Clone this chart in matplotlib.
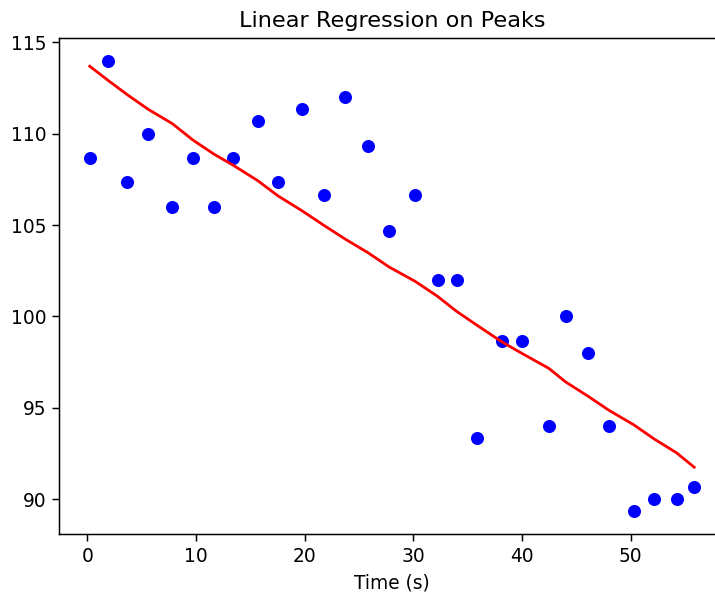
import matplotlib
matplotlib.use('Agg')
import matplotlib.pyplot as plt
import numpy as np

# Peak times (s) and peak values
peak_times = [0.22, 1.88, 3.68, 5.61, 7.82, 9.72, 11.63, 13.43, 15.68, 17.54,
              19.76, 21.78, 23.74, 25.85, 27.76, 30.17, 32.23, 33.98, 35.88, 38.12,
              39.96, 42.47, 44.01, 46.09, 47.99, 50.29, 52.13, 54.22, 55.85]
peak_values = [108.67, 114.0, 107.33, 110.0, 106.0, 108.67, 106.0, 108.67, 110.67, 107.33,
               111.33, 106.67, 112.0, 109.33, 104.67, 106.67, 102.0, 102.0, 93.33, 98.67,
               98.67, 94.0, 100.0, 98.0, 94.0, 89.33, 90.0, 90.0, 90.67]

# Model predictions at each peak
predicted = [113.69, 112.93, 112.13, 111.33, 110.55, 109.65, 108.89, 108.27, 107.43, 106.60,
             105.78, 104.98, 104.23, 103.48, 102.71, 101.92, 101.10, 100.28, 99.51, 98.62,
             97.99, 97.16, 96.42, 95.63, 94.87, 94.07, 93.31, 92.54, 91.75]

DPI = 134
fig = plt.figure(figsize=(715 / DPI, 594 / DPI), dpi=DPI)
ax = fig.add_axes([0.0832, 0.101, 0.930, 0.835])

ax.scatter(peak_times, peak_values, color='blue')
ax.plot(peak_times, predicted, color='red')

ax.set_title('Linear Regression on Peaks')
ax.set_xlabel('Time (s)')

plt.savefig('out.png', dpi=DPI)
